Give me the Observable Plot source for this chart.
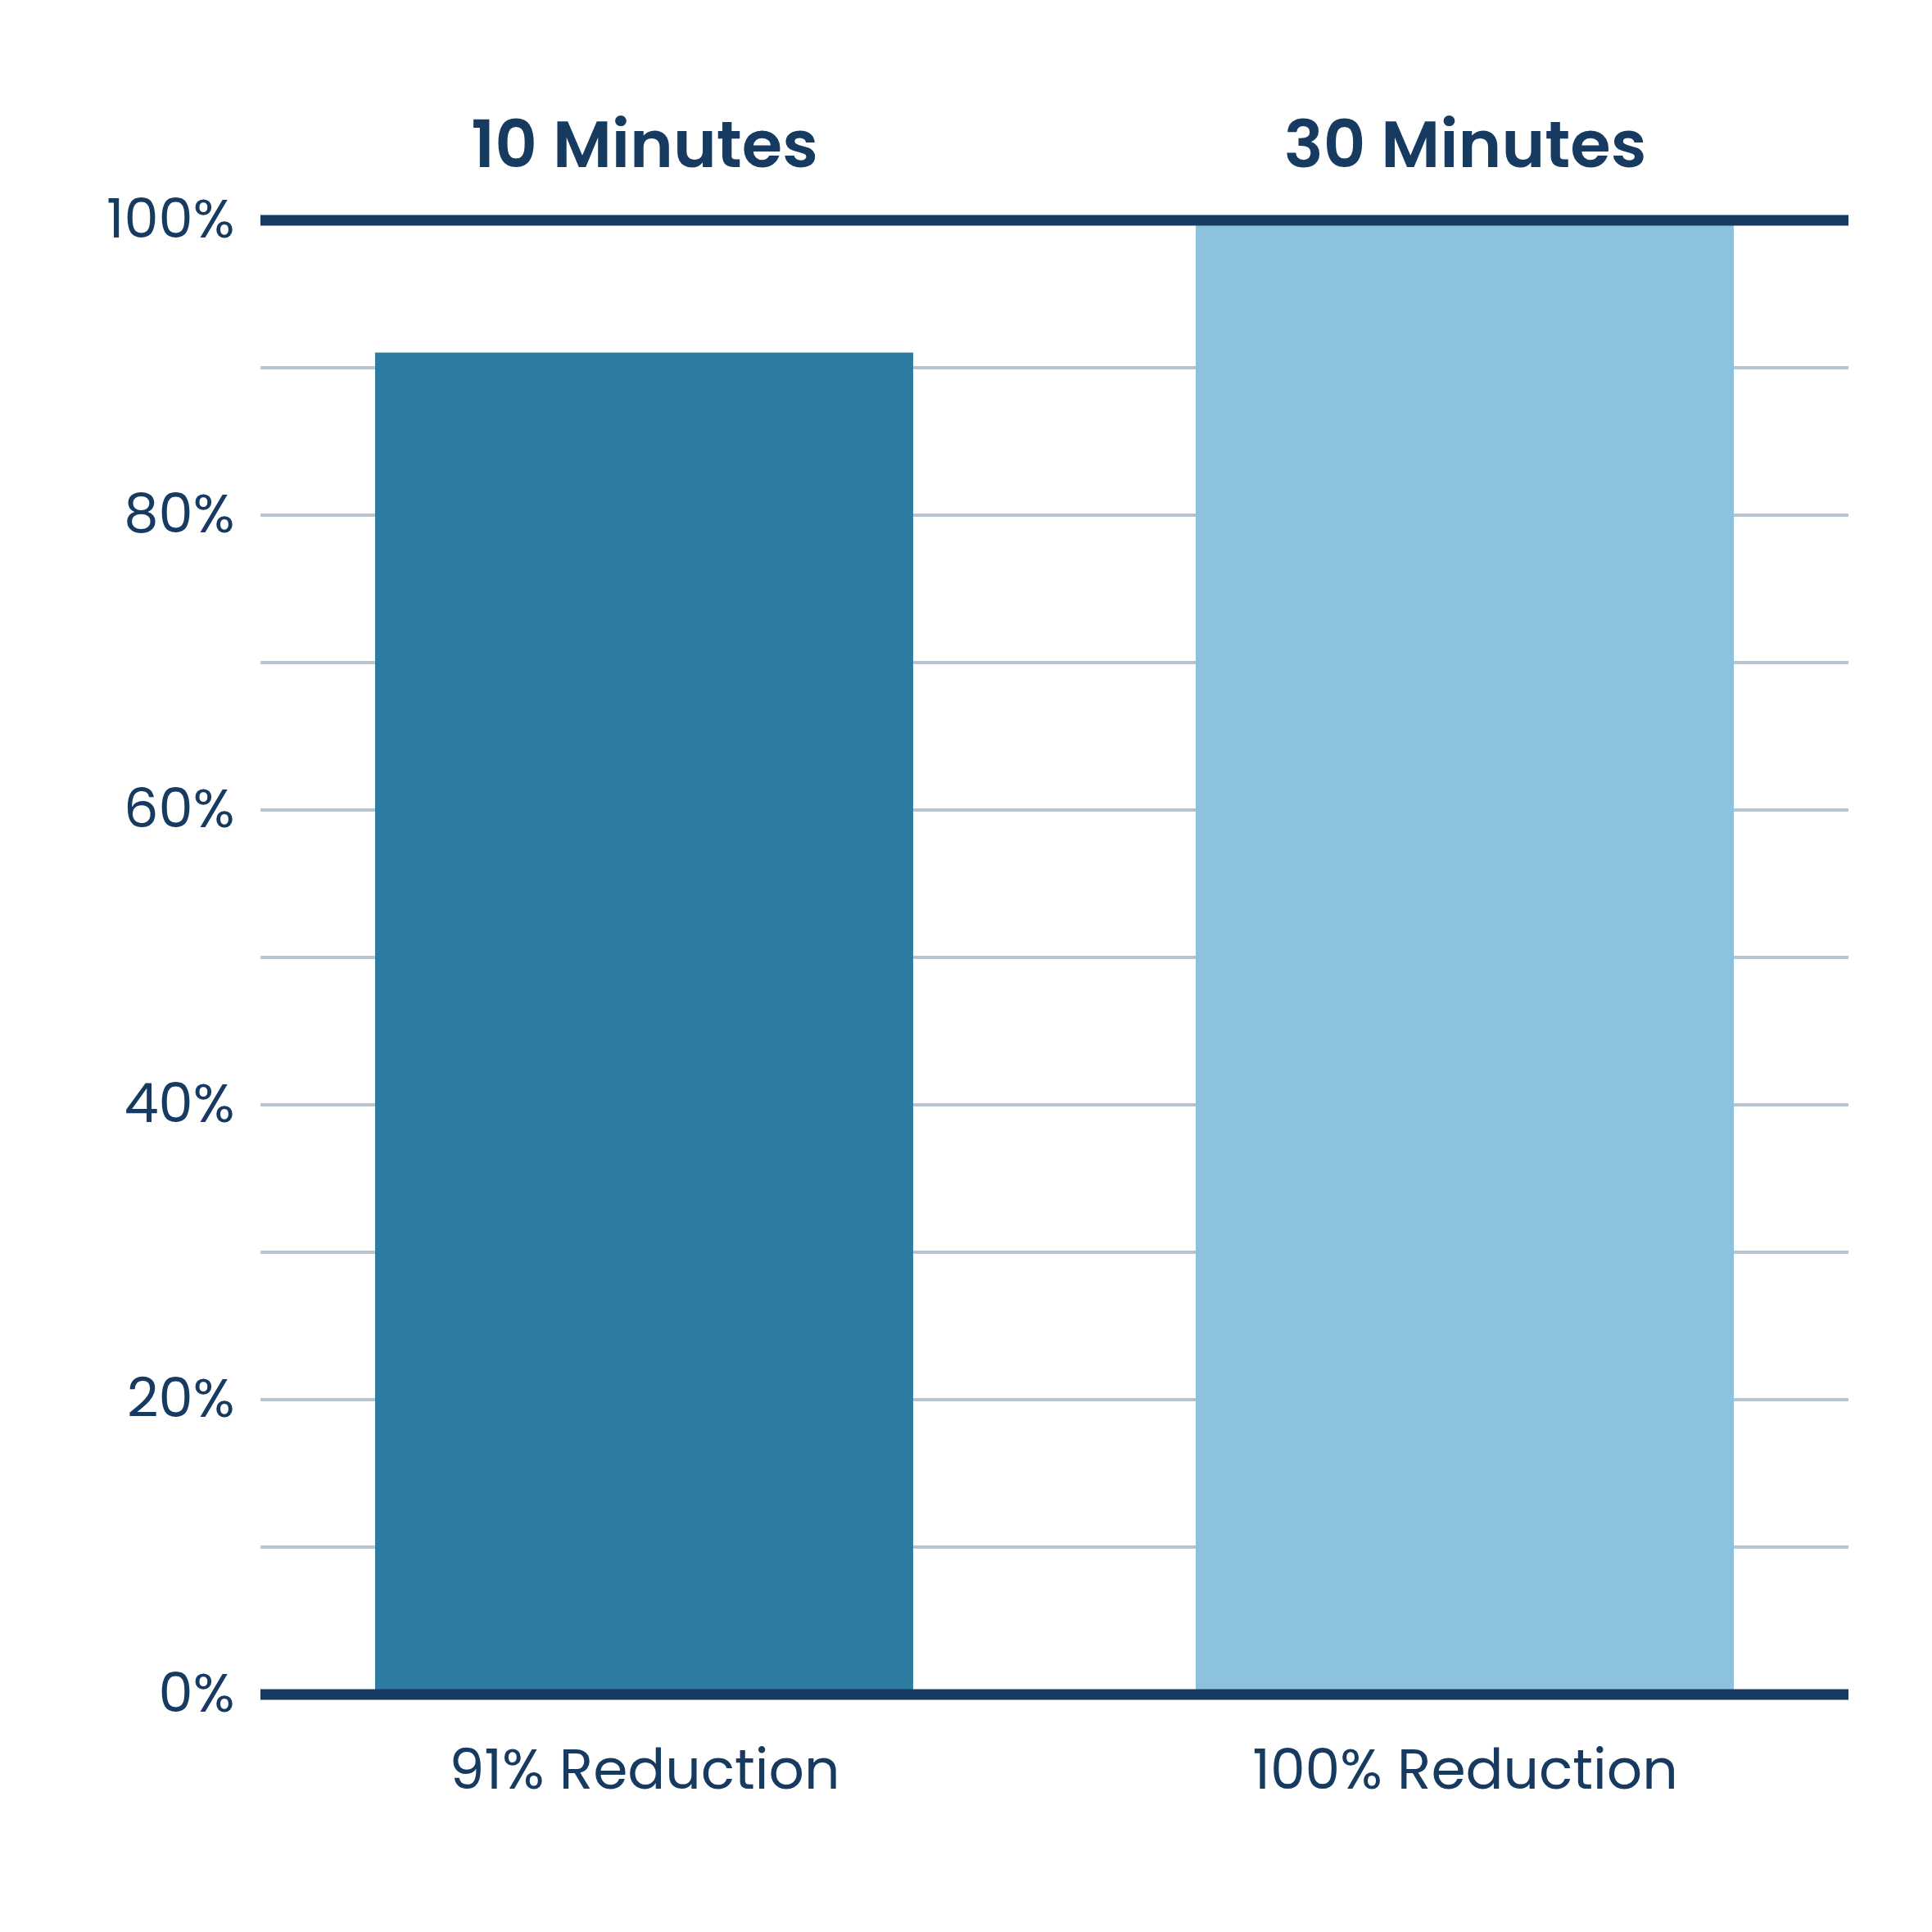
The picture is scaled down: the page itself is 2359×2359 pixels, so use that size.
<!DOCTYPE html>
<html>
<head>
<meta charset="utf-8">
<script src="https://cdn.jsdelivr.net/npm/d3@7"></script>
<script src="https://cdn.jsdelivr.net/npm/@observablehq/plot@0.6"></script>
<style>
  html, body { margin: 0; padding: 0; background: #ffffff; }
  #chart svg { display: block; }
</style>
</head>
<body>
<div id="chart"></div>
<script>
// Data
const categories = ["10 Minutes", "30 Minutes"];
const values = [91, 100];
const bottomLabels = ["91% Reduction", "100% Reduction"];
const barColors = ["#2e7ca1", "#8cc2dd"];
const yTicks = [0, 20, 40, 60, 80, 100];
const gridTicks = [10, 20, 30, 40, 50, 60, 70, 80, 90];

const navy = "#163a60";
const data = categories.map((c, i) => ({category: c, value: values[i], label: bottomLabels[i], color: barColors[i]}));
const labelOf = new Map(data.map(d => [d.category, d.label]));

const fontFamily = "Poppins, Inter, 'Noto Sans', sans-serif";

const chart = Plot.plot({
  width: 2359,
  height: 2359,
  marginLeft: 318,
  marginRight: 102,
  marginTop: 268.5,
  marginBottom: 290.5,
  style: {fontFamily, background: "#ffffff", color: navy},
  x: {domain: categories, paddingInner: 0.344, paddingOuter: 0.139, axis: null},
  y: {domain: [0, 100], axis: null},
  color: {type: "identity"},
  marks: [
    Plot.gridY(gridTicks, {stroke: "#b8c4d2", strokeOpacity: 1, strokeWidth: 4}),
    Plot.barY(data, {x: "category", y: "value", fill: "color"}),
    Plot.ruleY([0, 100], {stroke: navy, strokeWidth: 13}),
    Plot.axisY({
      ticks: yTicks,
      tickFormat: d => d + "%",
      tickSize: 0,
      tickPadding: 32,
      fontSize: 67,
      fill: navy,
      label: null
    }),
    Plot.axisX({
      anchor: "top",
      tickSize: 0,
      tickPadding: 65,
      fontSize: 80,
      fontWeight: 600,
      fill: navy,
      label: null
    }),
    Plot.axisX({
      anchor: "bottom",
      tickSize: 0,
      tickPadding: 67,
      tickFormat: d => labelOf.get(d),
      fontSize: 68,
      fill: navy,
      label: null
    })
  ]
});

document.getElementById("chart").appendChild(chart);
</script>
</body>
</html>
